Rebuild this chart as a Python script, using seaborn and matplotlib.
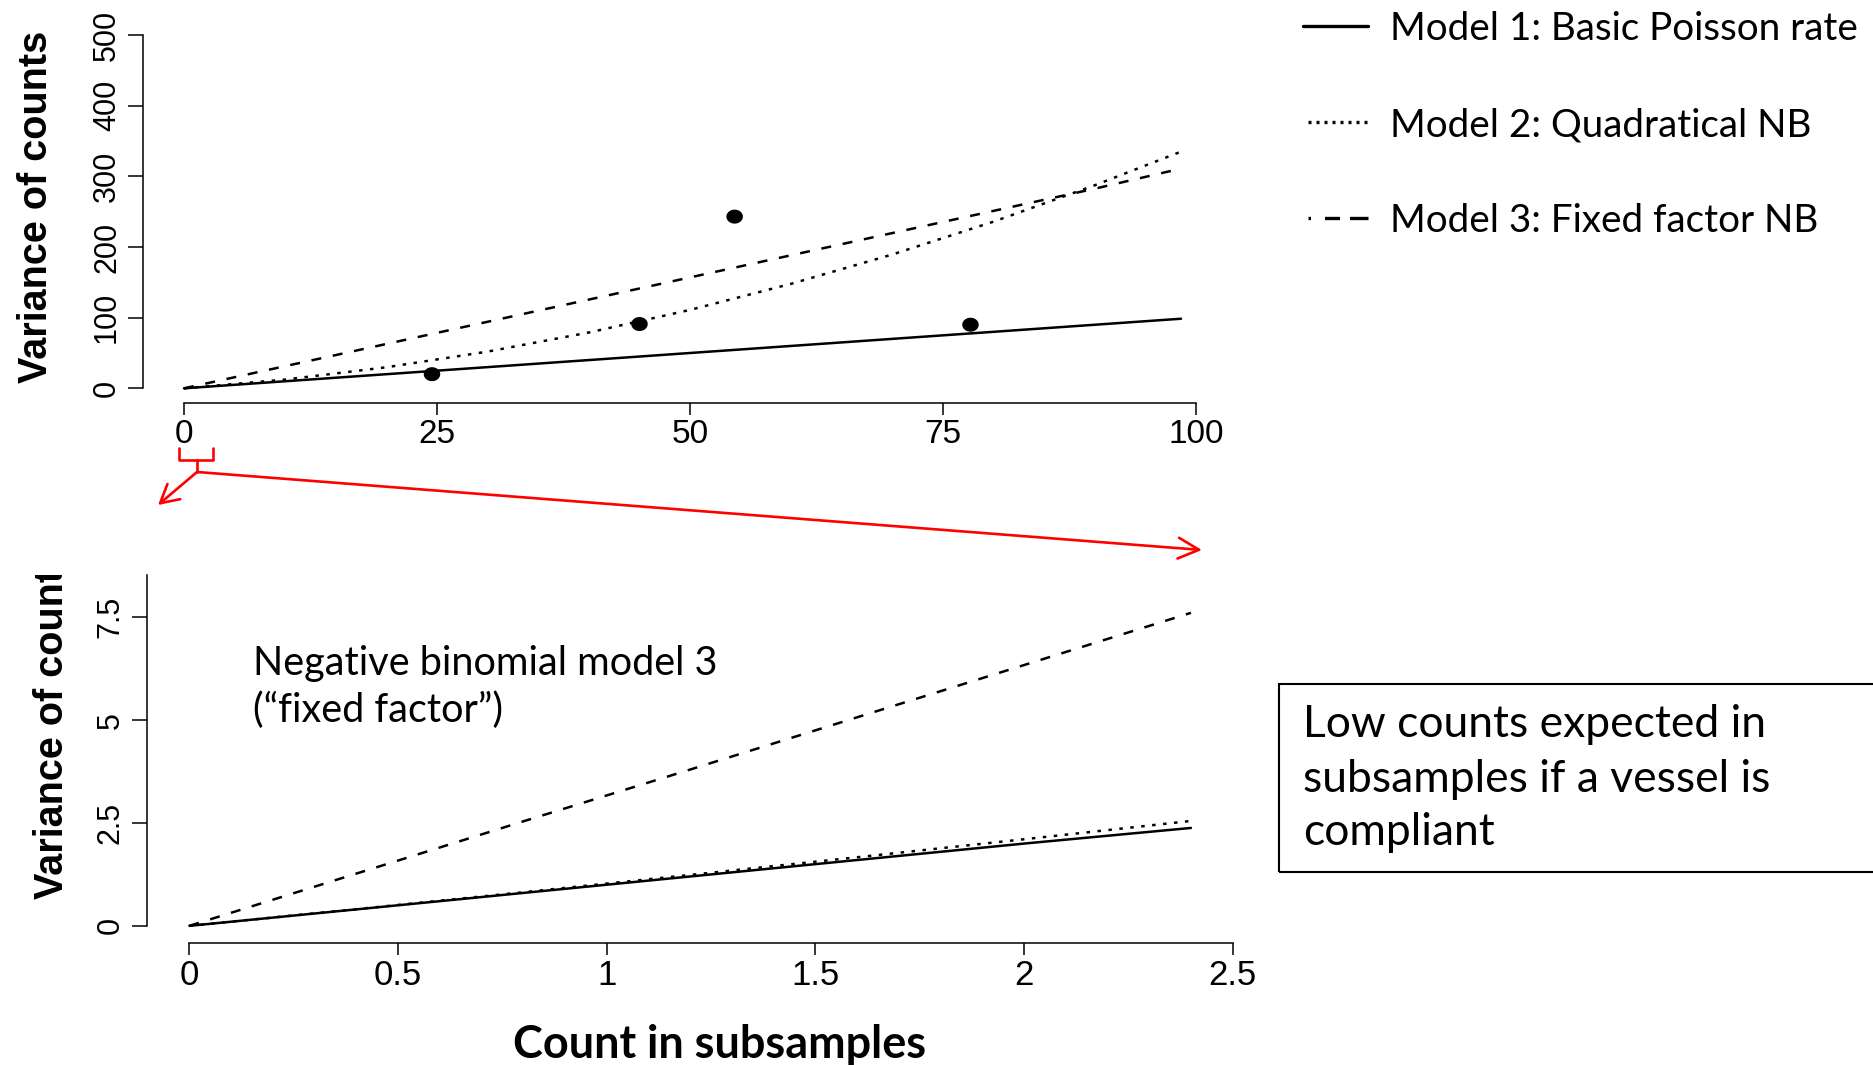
import matplotlib
matplotlib.use("Agg")
import matplotlib.pyplot as plt
import seaborn as sns
import pandas as pd
import numpy as np
from matplotlib.font_manager import FontProperties
from matplotlib.lines import Line2D
from matplotlib.patches import Rectangle, FancyArrowPatch
from matplotlib.path import Path
from matplotlib.transforms import Bbox

# ---------------- data ----------------
models = ["Model 1: Basic Poisson rate", "Model 2: Quadratical NB", "Model 3: Fixed factor NB"]

top_x = [0, 10, 20, 30, 40, 50, 60, 70, 80, 90, 98.5]
top_m1 = [0, 10, 20, 30, 40, 50, 60, 70, 80, 90, 98.5]
top_m2 = [0, 12.4, 29.8, 52, 79, 111, 148, 189.5, 236, 287.5, 335]
top_m3 = [0, 31.4, 62.8, 94.2, 125.6, 157, 188.4, 219.8, 251.2, 282.6, 311]

obs_x = [24.5, 45.0, 54.4, 77.7]
obs_y = [20, 91, 243, 90]

bot_x = [0, 0.4, 0.8, 1.2, 1.6, 2.0, 2.4]
bot_m1 = [0, 0.4, 0.8, 1.2, 1.6, 2.0, 2.38]
bot_m2 = [0, 0.405, 0.817, 1.238, 1.667, 2.105, 2.55]
bot_m3 = [0, 1.27, 2.54, 3.8, 5.07, 6.34, 7.61]

top_xticks = [0, 25, 50, 75, 100]
top_xlabels = ["0", "25", "50", "75", "100"]
top_yticks = [0, 100, 200, 300, 400, 500]
top_ylabels = ["0", "100", "200", "300", "400", "500"]
bot_xticks = [0, 0.5, 1, 1.5, 2, 2.5]
bot_xlabels = ["0", "0.5", "1", "1.5", "2", "2.5"]
bot_yticks = [0, 2.5, 5, 7.5]
bot_ylabels = ["0", "2.5", "5", "7.5"]

ylabel_text = "Variance of counts"
xlabel_text = "Count in subsamples"
note_lines = ["Negative binomial model 3", "(\u201cfixed factor\u201d)"]
box_lines = ["Low counts expected in", "subsamples if a vessel is", "compliant"]

# ---------------- style ----------------
sns.set_style("ticks", {"axes.edgecolor": "black", "xtick.color": "black",
                        "ytick.color": "black", "text.color": "black",
                        "axes.labelcolor": "black"})
plt.rcParams["font.family"] = ["Liberation Sans", "DejaVu Sans"]

W, H = 1874, 1065
fig = plt.figure(figsize=(W / 100, H / 100), dpi=100)
renderer = fig.canvas.get_renderer()


def fx(x):
    return x / W


def fy(y):
    return 1 - y / H


def fit(s, target_px, family="Lato", weight="normal"):
    fp = FontProperties(family=family, weight=weight, size=100)
    w, h, d = renderer.get_text_width_height_descent(s, fp, ismath=False)
    return 100 * target_px / w


dash_map = {models[0]: "", models[1]: (1.4, 3.0), models[2]: (4.0, 4.7)}
pal = {m: "black" for m in models}


def long_df(x, ys):
    return pd.DataFrame({
        "x": list(x) * 3,
        "y": [v for y in ys for v in y],
        "model": [m for m in models for _ in x],
    })


# ---------------- top panel ----------------
ax_top = fig.add_axes([fx(143.3), fy(403.3), (1236.7 - 143.3) / W, (403.3 - 20.9) / H])
sns.lineplot(data=long_df(top_x, [top_m1, top_m2, top_m3]), x="x", y="y",
             hue="model", style="model", palette=pal, dashes=dash_map,
             linewidth=1.8, legend=False, ax=ax_top, estimator=None, sort=False)

t = np.linspace(0, 2 * np.pi, 64)
ellipse = Path(np.c_[np.cos(t), 0.85 * np.sin(t)], closed=True)
sns.scatterplot(x=obs_x, y=obs_y, marker=ellipse, s=141, color="black",
                edgecolor="none", linewidth=0, ax=ax_top, zorder=3, legend=False)

ax_top.set_xlim(-4.02, 104)
ax_top.set_ylim(-21.2, 520)

# ---------------- bottom panel ----------------
ax_bot = fig.add_axes([fx(147), fy(942.7), (1274.4 - 147) / W, (942.7 - 575) / H])
sns.lineplot(data=long_df(bot_x, [bot_m1, bot_m2, bot_m3]), x="x", y="y",
             hue="model", style="model", palette=pal, dashes=dash_map,
             linewidth=1.8, legend=False, ax=ax_bot, estimator=None, sort=False)
ax_bot.set_xlim(-0.1016, 2.6)
ax_bot.set_ylim(-0.41, 8.53)

for ax, xt, xl, yt, yl, xb, yb, xs in [
        (ax_top, top_xticks, top_xlabels, top_yticks, top_ylabels, (0, 100), (0, 500), 24),
        (ax_bot, bot_xticks, bot_xlabels, bot_yticks, bot_ylabels, (0, 2.5), (0, 8.53), 25)]:
    sns.despine(ax=ax)
    ax.spines["left"].set_bounds(*yb)
    ax.spines["bottom"].set_bounds(*xb)
    for sp in ("left", "bottom"):
        ax.spines[sp].set_linewidth(1.1)
        ax.spines[sp].set_color("black")
    ax.set_xticks(xt, labels=xl)
    ax.set_yticks(yt, labels=yl, rotation=90, va="center", ha="right")
    ax.tick_params(axis="x", length=8.6, width=1.1, pad=3, labelsize=xs, colors="black")
    ax.tick_params(axis="y", length=10.8, width=1.1, pad=4.5, labelsize=22, colors="black")
    ax.set_xlabel("")
    ax.set_ylabel("")
    ax.patch.set_alpha(0)

# y labels
for ax, (lx, ly) in [(ax_top, (35.7, 206.7)), (ax_bot, (52, 723))]:
    ax.set_ylabel(ylabel_text, fontsize=28.5, fontweight="bold")
    ax.yaxis.set_label_coords(fx(lx), fy(ly), transform=fig.transFigure)
    ax.yaxis.label.set_va("center")
ax_bot.yaxis.label.set_clip_box(Bbox([[0, 0], [145, H - 575]]))
ax_bot.yaxis.label.set_clip_on(True)

# x label
xl_size = fit(xlabel_text, 414, weight="bold")
ax_bot.set_xlabel(xlabel_text, fontsize=xl_size, fontweight="bold", family="Lato")
ax_bot.xaxis.set_label_coords(fx(720), fy(1058), transform=fig.transFigure)
ax_bot.xaxis.label.set_va("baseline")

# ---------------- legend ----------------
leg_size = fit(models[0], 468)
leg_px = leg_size * 100 / 72
fp_leg = FontProperties(family="Lato", size=leg_size)
tmp = fig.text(0, 0, models[0], fontproperties=fp_leg)
h_txt = tmp.get_window_extent(renderer).height
tmp.remove()

handles = [
    Line2D([], [], color="black", lw=2.4, ls="-"),
    Line2D([], [], color="black", lw=2.4, ls=(0.9, (0.9, 1.5))),
    Line2D([], [], color="black", lw=2.4,
           ls=(18.05, (0.75, 4.2, 4.5, 3.0, 5.6, 1.5))),
]
fig.legend(handles, models, loc="upper left",
           bbox_to_anchor=(fx(1303), fy(29 - h_txt / 2)),
           bbox_transform=fig.transFigure, frameon=False, prop=fp_leg,
           handlelength=65 / leg_px, handletextpad=22 / leg_px,
           labelspacing=(96 - h_txt) / leg_px, borderpad=0, borderaxespad=0)

# ---------------- annotations ----------------
note_size = fit(note_lines[0], 465)
fig.text(fx(253), fy(675), note_lines[0], family="Lato", fontsize=note_size, va="baseline")
fig.text(fx(253), fy(722), note_lines[1], family="Lato", fontsize=note_size, va="baseline")

box_size = fit(box_lines[0], 463)
fig.add_artist(Rectangle((fx(1279), fy(872)), (1890 - 1279) / W, (872 - 684) / H,
                         transform=fig.transFigure, fill=False, ec="black", lw=1.5,
                         clip_on=False))
for line, base in zip(box_lines, [737, 792, 845]):
    fig.text(fx(1303), fy(base), line, family="Lato", fontsize=box_size, va="baseline")

red = "#FF0000"
fig.add_artist(Line2D([fx(179), fx(179), fx(213), fx(213)],
                      [fy(448), fy(460), fy(460), fy(448)],
                      transform=fig.transFigure, color=red, lw=1.9))
fig.add_artist(Line2D([fx(197), fx(197)], [fy(460), fy(472)],
                      transform=fig.transFigure, color=red, lw=1.9))
fig.add_artist(FancyArrowPatch(posA=(fx(197), fy(472)), posB=(fx(158), fy(505)),
                               transform=fig.transFigure,
                               arrowstyle="->,head_length=1.0,head_width=0.55",
                               mutation_scale=13, color=red, lw=1.9,
                               shrinkA=0, shrinkB=0))
fig.add_artist(FancyArrowPatch(posA=(fx(197), fy(472)), posB=(fx(1202), fy(550)),
                               transform=fig.transFigure,
                               arrowstyle="->,head_length=1.0,head_width=0.5",
                               mutation_scale=15, color=red, lw=1.9,
                               shrinkA=0, shrinkB=0))

fig.savefig("out.png", dpi=100)
